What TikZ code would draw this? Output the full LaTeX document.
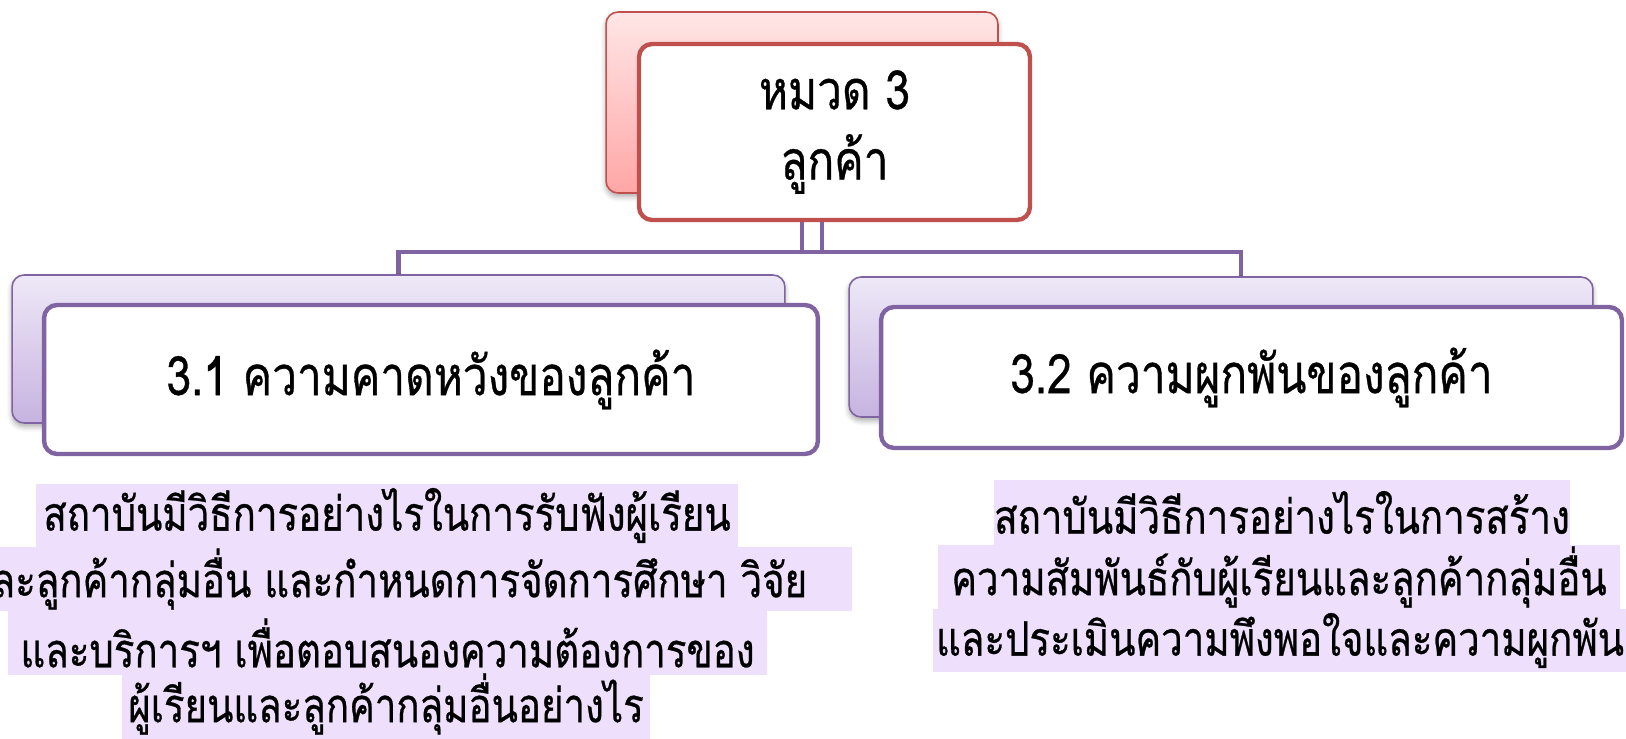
\documentclass[tikz,border=0pt]{standalone}
\usepackage{fontspec}
\newfontfamily\thaifont[Script=Thai, FakeStretch=0.81, FakeBold=0.6]{Loma}
\usetikzlibrary{shadows.blur,calc,backgrounds}
\definecolor{redacc}{HTML}{C0504D}
\definecolor{purp}{HTML}{8064A2}
\definecolor{hl}{HTML}{EEE0FC}
\definecolor{pinktop}{HTML}{FFE6E6}
\definecolor{pinkbot}{HTML}{FFA6A6}
\definecolor{lavtop}{HTML}{EEE8F7}
\definecolor{lavbot}{HTML}{C6B3E0}
\tikzset{
  backbox/.style={draw, rounded corners=6.8pt, line width=0.9pt, inner sep=0pt,
    blur shadow={shadow xshift=0pt, shadow yshift=-2pt, shadow blur radius=3pt, shadow opacity=35}},
  frontbox/.style={draw, fill=white, rounded corners=7.4pt, line width=2.5pt, inner sep=0pt,
    align=center, font=\thaifont\fontsize{31}{40}\selectfont},
  hlbox/.style={fill=hl, inner sep=0pt, font=\thaifont\fontsize{27}{30}\selectfont},
  conn/.style={draw=purp, line width=2.5pt},
}
\begin{document}
\begin{tikzpicture}[x=0.02cm, y=-0.02cm]
\useasboundingbox (0,0) rectangle (1626,739);
\clip (0,0) rectangle (1626,739);
% top
\node[backbox, draw=redacc, top color=pinktop, bottom color=pinkbot,
  minimum width=7.84cm, minimum height=3.62cm] (topback) at (802,102.5) {};
\node[frontbox, draw=redacc, minimum width=7.82cm, minimum height=3.52cm] (topfront) at (834.5,132)
  {หมวด 3\\ลูกค้า};
% left
\node[backbox, draw=purp, top color=lavtop, bottom color=lavbot,
  minimum width=15.46cm, minimum height=2.96cm] (leftback) at (398.5,349) {};
\node[frontbox, draw=purp, minimum width=15.48cm, minimum height=2.98cm] (leftfront) at (431,379.5)
  {3.1 ความคาดหวังของลูกค้า};
% right
\node[backbox, draw=purp, top color=lavtop, bottom color=lavbot,
  minimum width=14.88cm, minimum height=2.80cm] (rightback) at (1221,347) {};
\node[frontbox, draw=purp, minimum width=14.82cm, minimum height=2.82cm] (rightfront) at (1251.5,377.5)
  {3.2 ความผูกพันของลูกค้า};
% connectors
\coordinate (jl) at (822,252);
\coordinate (jr) at (802,252);
\begin{scope}[on background layer]
\draw[conn] (topfront.south -| jl) -- (jl) -| (leftback.north);
\draw[conn] (topfront.south -| jr) -- (jr) -| ($(rightback.north)+(20,0)$);
\end{scope}
% left text
\node[hlbox, minimum width=14.04cm, minimum height=1.26cm] (l1) at (387,515.5) {สถาบันมีวิธีการอย่างไรในการรับฟังผู้เรียน};
\node[hlbox, minimum width=18.6cm, minimum height=1.28cm] (l2) at (387,579) {และลูกค้ากลุ่มอื่น และกำหนดการจัดการศึกษา วิจัย};
\node[hlbox, minimum width=15.18cm, minimum height=1.28cm] (l3) at (387.5,643) {และบริการฯ เพื่อตอบสนองความต้องการของ};
\node[hlbox, minimum width=10.56cm, minimum height=1.40cm] (l4) at (386,704) {ผู้เรียนและลูกค้ากลุ่มอื่นอย่างไร};
% right text
\node[hlbox, minimum width=11.48cm, minimum height=1.30cm] (r1) at (1282,512.5) {สถาบันมีวิธีการอย่างไรในการสร้าง};
\node[hlbox, minimum width=13.64cm, minimum height=1.28cm] (r2) at (1279,577) {ความสัมพันธ์กับผู้เรียนและลูกค้ากลุ่มอื่น};
\node[hlbox, minimum width=13.88cm, minimum height=1.26cm] (r3) at (1280,640.5) {และประเมินความพึงพอใจและความผูกพัน};
\end{tikzpicture}
\end{document}
